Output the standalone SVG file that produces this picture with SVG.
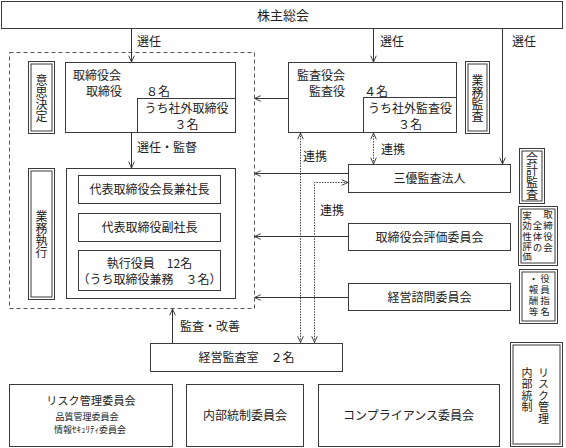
<svg xmlns="http://www.w3.org/2000/svg" width="566" height="448" viewBox="0 0 566 448">
<style>
.b{fill:#fff;stroke:#3a3a3a;stroke-width:1}
.t{font-family:"Noto Sans CJK JP","Noto Sans",sans-serif;font-size:12px;fill:#222}
.c{text-anchor:middle}
.v{writing-mode:vertical-rl;font-family:"Noto Sans CJK JP",sans-serif;font-size:12px;fill:#222}
.vm{text-anchor:middle}
.s{font-size:9.5px;letter-spacing:1.3px}
.ln{fill:none;stroke:#333;stroke-width:1}
.dt{fill:none;stroke:#444;stroke-width:1;stroke-dasharray:1.5,1.2}
</style>
<defs>
<marker id="ar" viewBox="0 0 10 10" refX="10" refY="5" markerUnits="userSpaceOnUse" markerWidth="7" markerHeight="7" orient="auto-start-reverse">
<path d="M1,1 L10,5 L1,9" fill="none" stroke="#333" stroke-width="1.3"/>
</marker>
</defs>
<rect width="566" height="448" fill="#fff"/>

<g id="kabunushi"><rect class="b" x="1.5" y="1.5" width="561" height="27"/><text class="t c" x="283" y="20" style="font-size:13px">株主総会</text></g>

<rect id="shikko-area" x="9.5" y="52.5" width="245" height="256" fill="none" stroke="#555" stroke-dasharray="4,3"/>

<g id="ishikettei"><rect class="b" x="28.5" y="61.5" width="26" height="72"/><rect class="b" x="31" y="64" width="21" height="67"/>
<text class="v vm" x="41.5" y="98">意思決定</text></g>

<g id="torishimariyakukai"><rect class="b" x="65.5" y="62.5" width="170" height="70"/><rect class="b" x="137.5" y="98.5" width="98" height="34"/>
<text class="t" x="73" y="80">取締役会</text><text class="t" x="86" y="96">取締役</text><text class="t" x="146" y="96">８名</text>
<text class="t c" x="186.5" y="113">うち社外取締役</text><text class="t c" x="186.5" y="129">３名</text></g>

<g id="gyomushikko"><rect class="b" x="28.5" y="168.5" width="26" height="131"/><rect class="b" x="31" y="171" width="21" height="126"/>
<text class="v vm" x="41.5" y="234.5">業務執行</text></g>

<g id="shikko"><rect class="b" x="66.5" y="168.5" width="169" height="130"/>
<rect class="b" x="78.5" y="175.5" width="142" height="28"/><text class="t c" x="149.5" y="193.5">代表取締役会長兼社長</text>
<rect class="b" x="78.5" y="213.5" width="142" height="28"/><text class="t c" x="149.5" y="231.5">代表取締役副社長</text>
<rect class="b" x="78.5" y="250.5" width="142" height="40"/><text class="t c" x="149.5" y="268">執行役員　12名</text><text class="t c" x="149.5" y="284">（うち取締役兼務　３名）</text></g>

<g id="kansayakukai"><rect class="b" x="288.5" y="62.5" width="168" height="70"/><rect class="b" x="363.5" y="97.5" width="93" height="35"/>
<text class="t" x="297" y="80">監査役会</text><text class="t" x="309" y="96">監査役</text><text class="t" x="364" y="96">４名</text>
<text class="t c" x="410" y="113">うち社外監査役</text><text class="t c" x="410" y="129">３名</text></g>

<g id="gyomukansa"><rect class="b" x="465.5" y="61.5" width="24" height="72"/><rect class="b" x="468" y="64" width="19" height="67"/>
<text class="v vm" x="477.5" y="98">業務監査</text></g>

<g id="sanyu"><rect class="b" x="348.5" y="164.5" width="162" height="28"/><text class="t c" x="429.5" y="182.5">三優監査法人</text></g>
<g id="kaikeikansa"><rect class="b" x="519.5" y="148.5" width="25" height="55"/><rect class="b" x="522" y="151" width="20" height="50"/>
<text class="v vm" x="532" y="176">会計監査</text></g>

<g id="hyoka"><rect class="b" x="348.5" y="223.5" width="162" height="27"/><text class="t c" x="429.5" y="241.5">取締役会評価委員会</text></g>
<g id="jikkosei"><rect class="b" x="518.5" y="206.5" width="39" height="59"/><rect class="b" x="521" y="209" width="34" height="54"/>
<text class="v s" x="548" y="210">取締役会</text>
<text class="v s" x="537.5" y="221">全体の</text>
<text class="v s" x="527" y="211" style="letter-spacing:0.6px">実効性評価</text></g>

<g id="shimon"><rect class="b" x="348.5" y="283.5" width="162" height="27"/><text class="t c" x="429.5" y="301.5">経営諮問委員会</text></g>
<g id="yakuin"><rect class="b" x="519.5" y="269.5" width="38" height="54"/><rect class="b" x="522" y="272" width="33" height="49"/>
<text class="v s" x="545" y="274">役員指名</text>
<text class="v s" x="533.5" y="274">・報酬等</text></g>

<g id="keieikansa"><rect class="b" x="150.5" y="343.5" width="192" height="28"/><text class="t c" x="246.5" y="361.5">経営監査室　２名</text></g>

<g id="risk"><rect class="b" x="9.5" y="384.5" width="163" height="62"/>
<text class="t c" x="91" y="405" style="font-size:11px;letter-spacing:0.2px">リスク管理委員会</text>
<text class="t c" x="87" y="420" style="font-size:9px">品質管理委員会</text>
<text class="t c" x="90" y="433" style="font-size:9px">情報ｾｷｭﾘﾃｨ委員会</text></g>
<g id="naibutosei"><rect class="b" x="186.5" y="384.5" width="117" height="62"/><text class="t c" x="245" y="419.5">内部統制委員会</text></g>
<g id="compliance"><rect class="b" x="318.5" y="384.5" width="181" height="62"/><text class="t c" x="408.5" y="419.5">コンプライアンス委員会</text></g>
<g id="riskkanri"><rect class="b" x="510.5" y="342.5" width="52" height="104"/><rect class="b" x="513" y="345" width="47" height="99"/>
<text class="v" x="543.5" y="367" style="font-size:11px;letter-spacing:0.5px">リスク管理</text>
<text class="v" x="527" y="367" style="font-size:11px;letter-spacing:0.5px">内部統制</text></g>

<g id="connectors">
<path class="ln" d="M131.5,28 V62" marker-end="url(#ar)"/>
<path class="ln" d="M373.5,28 V62" marker-end="url(#ar)"/>
<path class="ln" d="M502.5,28 V164" marker-end="url(#ar)"/>
<path class="ln" d="M131.5,132 V168" marker-end="url(#ar)"/>
<path class="ln" d="M288,98.5 H254.5" marker-end="url(#ar)"/>
<path class="ln" d="M348,173.5 H254.5" marker-end="url(#ar)"/>
<path class="ln" d="M348,236.5 H254.5" marker-end="url(#ar)"/>
<path class="ln" d="M348,297.5 H254.5" marker-end="url(#ar)"/>
<path class="ln" d="M172.5,343 V309" marker-end="url(#ar)"/>
<path class="dt" d="M300.5,133 V342.5" marker-start="url(#ar)" marker-end="url(#ar)"/>
<path class="dt" d="M373.5,133 V164" marker-start="url(#ar)" marker-end="url(#ar)"/>
<path class="dt" d="M314.5,342.5 V182.5 H348" marker-start="url(#ar)" marker-end="url(#ar)"/>
<text class="t" x="137" y="46">選任</text>
<text class="t" x="380" y="46">選任</text>
<text class="t" x="512" y="46">選任</text>
<text class="t" x="137" y="152">選任・監督</text>
<text class="t" x="303" y="161">連携</text>
<text class="t" x="381" y="154">連携</text>
<text class="t" x="320" y="215">連携</text>
<text class="t" x="180" y="331">監査・改善</text>
</g>
</svg>
